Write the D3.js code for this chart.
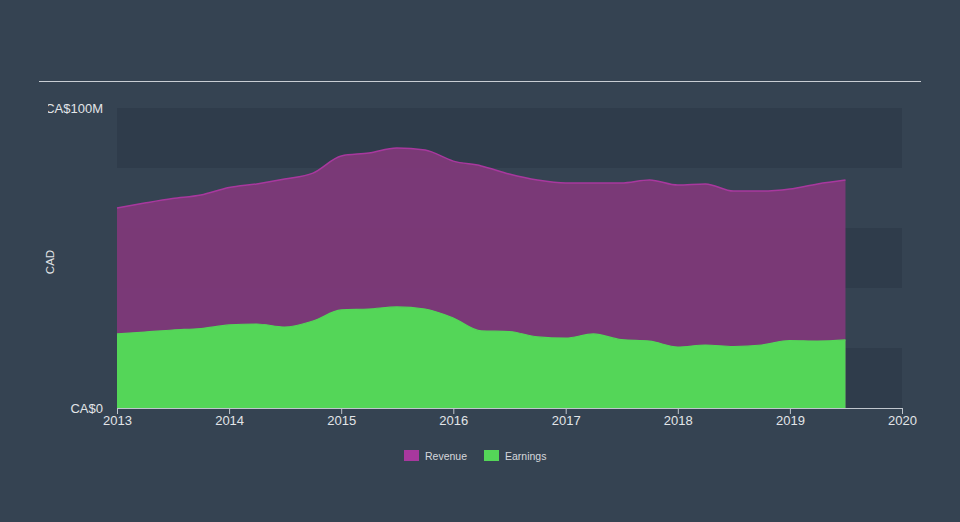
<!DOCTYPE html>
<html>
<head>
<meta charset="utf-8">
<script src="https://cdn.jsdelivr.net/npm/d3@7"></script>
<style>
  html, body { margin: 0; padding: 0; background: #354352; }
  svg { display: block; }
  text { font-family: "Liberation Sans", Arial, sans-serif; }
</style>
</head>
<body>
<svg id="chart" width="960" height="522"></svg>
<script>
// ---- data (values in CA$ millions) ----
const dates = [
  "2013-01-01","2013-04-01","2013-07-01","2013-10-01",
  "2014-01-01","2014-04-01","2014-07-01","2014-10-01",
  "2015-01-01","2015-04-01","2015-07-01","2015-10-01",
  "2016-01-01","2016-04-01","2016-07-01","2016-10-01",
  "2017-01-01","2017-04-01","2017-07-01","2017-10-01",
  "2018-01-01","2018-04-01","2018-07-01","2018-10-01",
  "2019-01-01","2019-04-01","2019-07-01"
];
const revenue = [
  66.7, 68.3, 69.8, 71.0,
  73.5, 74.7, 76.3, 78.3,
  84.0, 85.0, 86.7, 86.0,
  82.3, 80.7, 78.0, 76.0,
  75.0, 75.0, 75.0, 76.0,
  74.3, 74.7, 72.3, 72.3,
  73.0, 74.7, 76.0
];
const earnings = [
  24.7, 25.3, 26.0, 26.5,
  27.7, 28.0, 27.0, 29.0,
  32.7, 33.0, 33.7, 33.0,
  30.0, 25.7, 25.5, 23.7,
  23.3, 24.7, 22.8, 22.3,
  20.3, 21.0, 20.5, 21.0,
  22.5, 22.3, 22.7
];
const yTickValues = [0, 100];
const yTickLabels = ["CA$0", "CA$100M"];
const xTickYears = [2013, 2014, 2015, 2016, 2017, 2018, 2019, 2020];
const seriesNames = ["Revenue", "Earnings"];
const seriesColors = ["#a8389e", "#54d658"];

// ---- layout ----
const svg = d3.select("#chart");
const W = 960, H = 522;
const mLeft = 117, mRight = 902, mTop = 108, mBottom = 408;

const parse = d3.timeParse("%Y-%m-%d");
const data = dates.map((d, i) => ({ date: parse(d), rev: revenue[i], earn: earnings[i] }));

const x = d3.scaleTime()
  .domain([new Date(2013, 0, 1), new Date(2020, 0, 1)])
  .range([mLeft, mRight]);
const y = d3.scaleLinear().domain([0, 100]).range([mBottom, mTop]);

// background
svg.append("rect").attr("width", W).attr("height", H).attr("fill", "#354352");

// top rule
svg.append("line")
  .attr("x1", 39).attr("x2", 921).attr("y1", 81.5).attr("y2", 81.5)
  .attr("stroke", "#c9ced4").attr("stroke-width", 1);

// alternating bands (20M each)
const bandEdges = d3.range(0, 100, 20);
svg.append("g").selectAll("rect")
  .data(bandEdges.filter((d, i) => i % 2 === 0))
  .join("rect")
  .attr("x", mLeft)
  .attr("width", mRight - mLeft)
  .attr("y", d => y(d + 20))
  .attr("height", d => y(d) - y(d + 20))
  .attr("fill", "#2f3c4b");

// areas
const curve = d3.curveMonotoneX;
const revArea = d3.area().x(d => x(d.date)).y0(y(0)).y1(d => y(d.rev)).curve(curve);
const revLine = d3.line().x(d => x(d.date)).y(d => y(d.rev)).curve(curve);
const earnArea = d3.area().x(d => x(d.date)).y0(y(0)).y1(d => y(d.earn)).curve(curve);
const earnLine = d3.line().x(d => x(d.date)).y(d => y(d.earn)).curve(curve);

svg.append("path").datum(data).attr("d", revArea)
  .attr("fill", "#80397a").attr("fill-opacity", 0.93);
svg.append("path").datum(data).attr("d", revLine)
  .attr("fill", "none").attr("stroke", seriesColors[0]).attr("stroke-width", 1.5);
svg.append("path").datum(data).attr("d", earnArea)
  .attr("fill", seriesColors[1]);
svg.append("path").datum(data).attr("d", earnLine)
  .attr("fill", "none").attr("stroke", seriesColors[1]).attr("stroke-width", 1.2);

// x axis
const xAxis = d3.axisBottom(x)
  .tickValues(xTickYears.map(yr => new Date(yr, 0, 1)))
  .tickFormat(d3.timeFormat("%Y"))
  .tickSize(6)
  .tickSizeOuter(0);
const gx = svg.append("g").attr("transform", `translate(0,${mBottom})`).call(xAxis);
gx.select(".domain").attr("stroke", "#c0c6cd");
gx.selectAll(".tick line").attr("stroke", "#c0c6cd");
gx.selectAll(".tick text")
  .attr("fill", "#e2e5e8")
  .attr("font-size", 13)
  .attr("font-family", "'Liberation Sans', Arial, sans-serif")
  .attr("dy", "0.65em");

// y axis labels (clipped at left like the reference)
svg.append("defs").append("clipPath").attr("id", "yclip")
  .append("rect").attr("x", 48).attr("y", 0).attr("width", 200).attr("height", H);
const yAxis = d3.axisLeft(y)
  .tickValues(yTickValues)
  .tickFormat((d, i) => yTickLabels[i])
  .tickSize(0);
const gy = svg.append("g").attr("clip-path", "url(#yclip)")
  .append("g").attr("transform", `translate(${mLeft - 14},0)`).call(yAxis);
gy.select(".domain").remove();
gy.selectAll(".tick text")
  .attr("fill", "#e2e5e8")
  .attr("font-size", 13)
  .attr("font-family", "'Liberation Sans', Arial, sans-serif")
  .attr("x", 0)
  .attr("dy", "0.32em");

// y axis title
svg.append("text")
  .attr("transform", `translate(54,${(mTop + mBottom) / 2 + 4}) rotate(-90)`)
  .attr("text-anchor", "middle")
  .attr("fill", "#e2e5e8")
  .attr("font-size", 11.5)
  .text("CAD");

// legend
const legend = svg.append("g").attr("transform", "translate(404,450)");
const legendX = [0, 80];
seriesNames.forEach((name, i) => {
  const g = legend.append("g").attr("transform", `translate(${legendX[i]},0)`);
  g.append("rect").attr("width", 15).attr("height", 11).attr("fill", seriesColors[i]);
  g.append("text").attr("x", 21).attr("y", 10)
    .attr("fill", "#d5d8dc").attr("font-size", 10.5).text(name);
});
</script>
</body>
</html>
